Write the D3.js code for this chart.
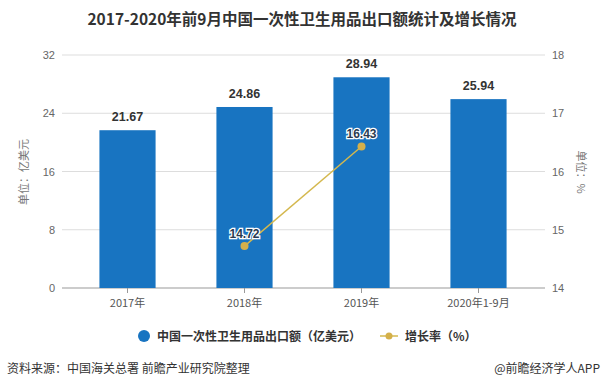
<!DOCTYPE html>
<html><head><meta charset="utf-8">
<script src="https://cdn.jsdelivr.net/npm/d3@7"></script>
<style>body{margin:0;background:#fff;} svg{display:block;font-family:"Noto Sans CJK SC","Noto Sans",sans-serif;}</style>
</head><body>
<svg id="c" width="605" height="391"></svg>
<script>
const categories = ["2017年","2018年","2019年","2020年1-9月"];
const exportValues = [21.67, 24.86, 28.94, 25.94];
const growthCats = ["2018年","2019年"];
const growthValues = [14.72, 16.43];
const leftTicks = [0, 8, 16, 24, 32];
const rightTicks = [14, 15, 16, 17, 18];

const svg = d3.select("#c");
const x = d3.scaleBand().domain(categories).range([69, 537]).paddingInner(0.52).paddingOuter(0.26);
const xc = d => x(d) + x.bandwidth()/2;
const y = d3.scaleLinear().domain([0, 32]).range([288, 55]);
const y2 = d3.scaleLinear().domain([14, 18]).range([288, 55]);

svg.append("text").attr("x", 302).attr("y", 25).attr("text-anchor", "middle")
  .attr("font-size", 15.5).attr("font-weight", "bold").attr("fill", "#333")
  .text("2017-2020年前9月中国一次性卫生用品出口额统计及增长情况");

// grid
svg.append("g").selectAll("line").data(leftTicks).join("line")
  .attr("x1", 62).attr("x2", 545).attr("y1", d => y(d)).attr("y2", d => y(d))
  .attr("stroke", d => d === 0 ? "#999" : "#ddd").attr("stroke-width", 1);

// axis labels
svg.append("g").selectAll("text").data(leftTicks).join("text")
  .attr("x", 55).attr("y", d => y(d) + 4).attr("text-anchor", "end")
  .attr("font-size", 11).attr("fill", "#666").attr("font-family", "Liberation Sans, Arial, sans-serif").text(d => d);
svg.append("g").selectAll("text").data(rightTicks).join("text")
  .attr("x", 552).attr("y", d => y2(d) + 4).attr("text-anchor", "start")
  .attr("font-size", 11).attr("fill", "#666").attr("font-family", "Liberation Sans, Arial, sans-serif").text(d => d);

svg.append("text").attr("transform", "translate(28,172) rotate(-90)").attr("text-anchor", "middle")
  .attr("font-size", 11).attr("fill", "#777").text("单位：亿美元");
svg.append("text").attr("transform", "translate(577,172) rotate(90)").attr("text-anchor", "middle")
  .attr("font-size", 11).attr("fill", "#777").text("单位：%");

// bars
svg.append("g").selectAll("rect").data(categories).join("rect")
  .attr("x", d => x(d)).attr("width", x.bandwidth())
  .attr("y", (d, i) => y(exportValues[i])).attr("height", (d, i) => y(0) - y(exportValues[i]))
  .attr("fill", "#1874c1");

svg.append("g").selectAll("text").data(categories).join("text")
  .attr("x", d => xc(d)).attr("y", (d, i) => y(exportValues[i]) - 9).attr("text-anchor", "middle")
  .attr("font-size", 12.5).attr("font-weight", "bold").attr("fill", "#333")
  .attr("font-family", "Liberation Sans, Arial, sans-serif").text((d, i) => exportValues[i].toFixed(2));

// x axis ticks
svg.append("g").selectAll("line").data(categories).join("line")
  .attr("x1", d => xc(d)).attr("x2", d => xc(d)).attr("y1", 288).attr("y2", 293).attr("stroke", "#999");
svg.append("g").selectAll("text").data(categories).join("text")
  .attr("x", d => xc(d)).attr("y", 307).attr("text-anchor", "middle")
  .attr("font-size", 11).attr("fill", "#555").text(d => d);

// line
const line = d3.line().x((d, i) => xc(growthCats[i])).y(d => y2(d));
svg.append("path").datum(growthValues).attr("d", line).attr("fill", "none")
  .attr("stroke", "#d4b84e").attr("stroke-width", 1.5);
svg.append("g").selectAll("circle").data(growthValues).join("circle")
  .attr("cx", (d, i) => xc(growthCats[i])).attr("cy", d => y2(d)).attr("r", 4)
  .attr("fill", "#d4b04a");
svg.append("g").selectAll("text").data(growthValues).join("text")
  .attr("x", (d, i) => xc(growthCats[i])).attr("y", d => y2(d) - 8).attr("text-anchor", "middle")
  .attr("font-size", 12).attr("font-weight", "bold").attr("fill", "#2a3a50")
  .attr("stroke", "#fff").attr("stroke-width", 2.5).attr("paint-order", "stroke")
  .attr("font-family", "Liberation Sans, Arial, sans-serif").text(d => d.toFixed(2));

// legend
svg.append("circle").attr("cx", 144).attr("cy", 336).attr("r", 6).attr("fill", "#1874c1");
svg.append("text").attr("x", 157).attr("y", 341).attr("font-size", 12).attr("font-weight", "bold").attr("fill", "#333")
  .text("中国一次性卫生用品出口额（亿美元）");
svg.append("line").attr("x1", 380).attr("x2", 398).attr("y1", 336).attr("y2", 336).attr("stroke", "#d4b84e").attr("stroke-width", 1.5);
svg.append("circle").attr("cx", 389).attr("cy", 336).attr("r", 3.5).attr("fill", "#d4b04a");
svg.append("text").attr("x", 405).attr("y", 341).attr("font-size", 12).attr("font-weight", "bold").attr("fill", "#333")
  .text("增长率（%）");

// footer
svg.append("text").attr("x", 7).attr("y", 373).attr("font-size", 12).attr("fill", "#333")
  .text("资料来源：中国海关总署 前瞻产业研究院整理");
svg.append("text").attr("x", 600).attr("y", 373).attr("text-anchor", "end").attr("font-size", 12).attr("fill", "#333")
  .text("@前瞻经济学人APP");
</script>
</body></html>
